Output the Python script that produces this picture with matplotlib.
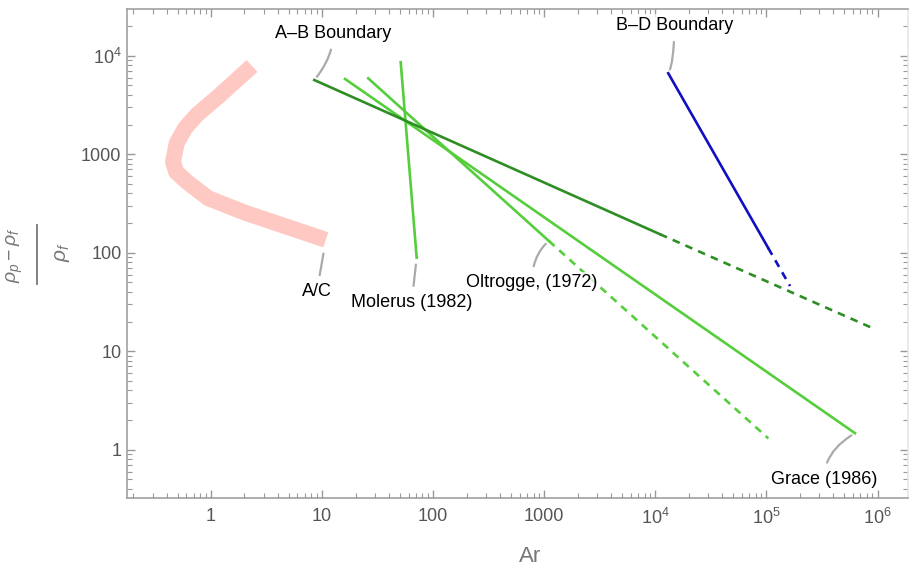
import matplotlib
matplotlib.use("Agg")
import matplotlib.pyplot as plt
from matplotlib.lines import Line2D
from matplotlib.ticker import FixedLocator, FixedFormatter, LogLocator, NullFormatter

plt.rcParams["font.family"] = ["Liberation Sans", "DejaVu Sans"]
plt.rcParams["mathtext.fontset"] = "custom"
plt.rcParams["mathtext.rm"] = "Liberation Sans"
plt.rcParams["mathtext.it"] = "Liberation Sans:italic"
plt.rcParams["lines.scale_dashes"] = False

# A/C region boundary (thick band)
ac_ar = [2.34, 1.205, 0.743, 0.583, 0.491, 0.455, 0.484, 0.604, 0.946, 2.02, 10.8]
ac_y = [7860, 3990, 2500, 1832, 1291, 839, 664, 526, 357, 255, 135]

# A-B boundary
ab_solid_ar = [8.5, 11000]
ab_solid_y = [5665, 154]
ab_dash_ar = [11000, 9.5e5]
ab_dash_y = [154, 16.7]

# B-D boundary
bd_solid_ar = [13060, 1.04e5]
bd_solid_y = [6630, 111]
bd_dash_ar = [1.04e5, 1.63e5]
bd_dash_y = [111, 45.9]

# correlations
molerus_ar = [51, 71]
molerus_y = [8570, 89]
grace_ar = [16.1, 6.27e5]
grace_y = [5800, 1.47]
oltrogge_solid_ar = [26, 1100]
oltrogge_solid_y = [5890, 131.5]
oltrogge_dash_ar = [1100, 1.04e5]
oltrogge_dash_y = [131.5, 1.3]

x_ticks = [1, 10, 100, 1000, 1e4, 1e5, 1e6]
x_labels = ["1", "10", "100", "1000", r"$\mathregular{10^4}$", r"$\mathregular{10^5}$", r"$\mathregular{10^6}$"]
y_ticks = [1, 10, 100, 1000, 1e4]
y_labels = ["1", "10", "100", "1000", r"$\mathregular{10^4}$"]

PINK = "#FFC9C3"
DARK_GREEN = "#2E8E24"
LIGHT_GREEN = "#56CE3C"
BLUE = "#1010C2"
LEADER = "#AAAAAA"
AXIS = "#999999"
LABEL = "#777777"
DASH = (5.5, 4.5)

fig = plt.figure(figsize=(9.10, 5.69), dpi=100)
ax = fig.add_axes([0.1396, 0.1243, 0.8582, 0.8599])
ax.set_xscale("log")
ax.set_yscale("log")
ax.set_xlim(0.1754, 1.88e6)
ax.set_ylim(0.321, 29800)

ax.plot(ac_ar, ac_y, color=PINK, lw=11.5, solid_capstyle="butt", solid_joinstyle="round", zorder=1)

ax.plot(ab_solid_ar, ab_solid_y, color=DARK_GREEN, lw=1.9, zorder=3)
ax.plot(ab_dash_ar, ab_dash_y, color=DARK_GREEN, lw=1.9, dashes=DASH, zorder=3)
ax.plot(bd_solid_ar, bd_solid_y, color=BLUE, lw=1.9, zorder=3)
ax.plot(bd_dash_ar, bd_dash_y, color=BLUE, lw=1.9, dashes=DASH, zorder=3)
ax.plot(molerus_ar, molerus_y, color=LIGHT_GREEN, lw=1.9, zorder=2)
ax.plot(grace_ar, grace_y, color=LIGHT_GREEN, lw=1.9, zorder=2)
ax.plot(oltrogge_solid_ar, oltrogge_solid_y, color=LIGHT_GREEN, lw=1.9, zorder=2)
ax.plot(oltrogge_dash_ar, oltrogge_dash_y, color=LIGHT_GREEN, lw=1.9, dashes=DASH, zorder=2)


def callout(text, xy, offset, conn="arc3,rad=0", shrinkB=3):
    ax.annotate(text, xy=xy, xytext=offset, textcoords="offset pixels",
                ha="center", va="center", fontsize=13, color="black", zorder=5,
                bbox=dict(boxstyle="square,pad=0.15", fc="white", ec="none", alpha=0.75),
                arrowprops=dict(arrowstyle="-", color=LEADER, lw=1.6, shrinkA=4,
                                shrinkB=shrinkB, connectionstyle=conn))


callout("A\u2013B Boundary", (ab_solid_ar[0], ab_solid_y[0]), (19, 47),
        conn="angle3,angleA=90,angleB=50")
callout("B\u2013D Boundary", (bd_solid_ar[0], bd_solid_y[0]), (6, 48),
        conn="angle3,angleA=90,angleB=60")
callout("A/C", (ac_ar[-1], ac_y[-1]), (-9, -52), shrinkB=10)
callout("Molerus (1982)", (molerus_ar[-1], molerus_y[-1]), (-5, -45), shrinkB=5)
callout("Oltrogge, (1972)", (oltrogge_solid_ar[-1], oltrogge_solid_y[-1]), (-17, -42),
        conn="angle3,angleA=90,angleB=40")
callout("Grace (1986)", (grace_ar[-1], grace_y[-1]), (-31, -46),
        conn="angle3,angleA=90,angleB=30")

ax.xaxis.set_major_locator(FixedLocator(x_ticks))
ax.xaxis.set_major_formatter(FixedFormatter(x_labels))
ax.yaxis.set_major_locator(FixedLocator(y_ticks))
ax.yaxis.set_major_formatter(FixedFormatter(y_labels))
for axis in (ax.xaxis, ax.yaxis):
    axis.set_minor_locator(LogLocator(base=10, subs=range(2, 10), numticks=20))
    axis.set_minor_formatter(NullFormatter())

ax.tick_params(which="both", direction="in", top=True, right=True, color=AXIS,
               labelcolor="#555555", labelsize=13)
ax.tick_params(which="major", length=6, width=1)
ax.tick_params(which="minor", length=3.5, width=0.8)
ax.tick_params(axis="x", pad=7)
ax.tick_params(axis="y", pad=4)
for side, sp in ax.spines.items():
    sp.set_color(AXIS)
    sp.set_linewidth(1.1)
ax.spines["right"].set_color("#E6E6E6")

ax.set_xlabel("Ar", fontsize=16, color=LABEL)
ax.xaxis.set_label_coords(0.516, -0.098)

# y label drawn as a tall fraction, like the original
fig.text(15 / 910, 1 - 255 / 569, r"$\rho_p - \rho_f$", rotation=90, ha="center",
         va="center", fontsize=14, color=LABEL)
fig.text(62 / 910, 1 - 252 / 569, r"$\rho_f$", rotation=90, ha="center",
         va="center", fontsize=15, color=LABEL)
fig.add_artist(Line2D([37 / 910, 37 / 910], [1 - 225 / 569, 1 - 284 / 569],
                      transform=fig.transFigure, color=LABEL, lw=1.3))

fig.savefig("out.png", dpi=100)
